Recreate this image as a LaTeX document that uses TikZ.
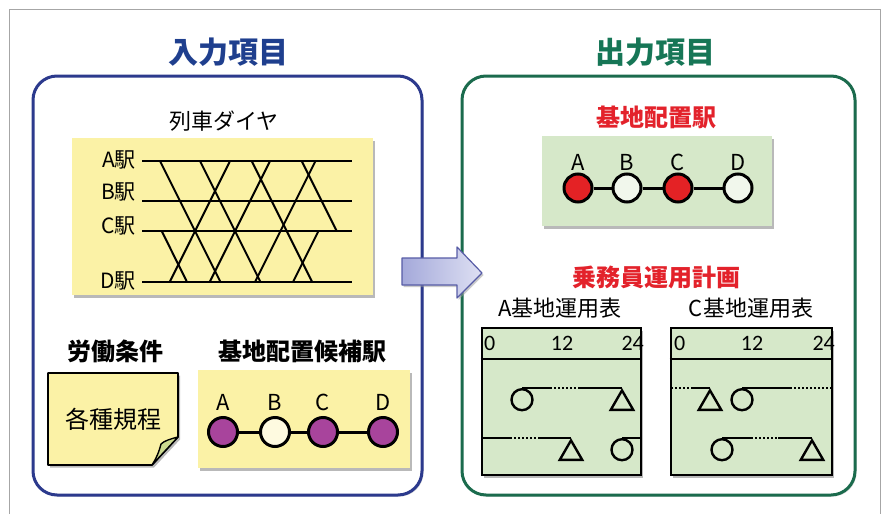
\documentclass[tikz,border=0pt]{standalone}
\usepackage{fontspec}
\setmainfont{Noto Sans CJK JP}
\newfontfamily\hourfont{Carlito}
\usetikzlibrary{shapes.geometric, shadows}

\definecolor{inblue}{HTML}{2C3A8D}
\definecolor{intitle}{HTML}{1F3F8E}
\definecolor{outgreen}{HTML}{1B6B4D}
\definecolor{outtitle}{HTML}{167656}
\definecolor{notered}{HTML}{E3222B}
\definecolor{padyellow}{HTML}{FBF2A6}
\definecolor{padgreen}{HTML}{D6E8C9}
\definecolor{flapgreen}{HTML}{CBD98F}
\definecolor{basepurple}{HTML}{A8449C}
\definecolor{basered}{HTML}{E42225}
\definecolor{arrowdark}{HTML}{A4A9DA}
\definecolor{arrowlight}{HTML}{DEE0F3}
\definecolor{arrowedge}{HTML}{575CA6}

\begin{document}
\begin{tikzpicture}[x=1pt, y=-1pt,
    panel/.style={draw, line width=3pt, rounded corners=24pt, inner sep=0pt, fill=white,
      drop shadow={shadow xshift=1.5pt, shadow yshift=-1.5pt, fill=black!30, opacity=.5}},
    pad/.style={inner sep=0pt, drop shadow={shadow xshift=2pt, shadow yshift=-2.5pt, fill=black!50, opacity=.55}},
    title/.style={font=\bfseries\fontsize{30}{30}\selectfont},
    head/.style={font=\bfseries\fontsize{24}{24}\selectfont},
    plain/.style={font=\fontsize{22}{22}\selectfont},
    stn/.style={font=\fontsize{22}{22}\selectfont, inner sep=0pt},
    dia/.style={font=\fontsize{21}{21}\selectfont, inner sep=0pt},
    base/.style={circle, draw, line width=3pt, minimum size=29pt, inner sep=0pt},
    link/.style={line width=3pt},
    table/.style={draw, fill=padgreen, line width=2.8pt, minimum height=147pt, inner sep=0pt,
      drop shadow={shadow xshift=2pt, shadow yshift=-2.5pt, fill=black!50, opacity=.55}},
    stop/.style={circle, draw, line width=2.4pt, minimum size=21pt, inner sep=0pt, anchor=north},
    turn/.style={regular polygon, regular polygon sides=3, draw, line width=2.4pt, minimum size=26pt,
      inner sep=0pt, anchor=corner 1},
    run/.style={line width=2.4pt},
    gap/.style={line width=2.4pt, dash pattern=on 2pt off 2pt},
    hour/.style={font=\hourfont\fontsize{22}{22}\selectfont, inner sep=0pt},
    track/.style={line width=1.6pt},
    train/.style={line width=2pt}]

\useasboundingbox (0,0) rectangle (883,514);
\draw[gray!70, line width=1pt] (9,514) -- (9,9) -- (880,9) -- (880,514);

% input side
\node[panel, draw=inblue, minimum width=389pt, minimum height=419pt] (inpanel) at (227.5,285.5) {};
\node[title, text=intitle] (inhead) at (228,52) {入力項目};

\node[plain] (diahead) at (224,121) {列車ダイヤ};
\node[pad, fill=padyellow, minimum width=301pt, minimum height=157pt] (diapad) at (222.5,216.5) {};
\foreach \n/\ly/\yy in {A/160/161, B/192/201, C/226/231, D/281/282} {
  \node[dia, anchor=east] (st\n) at (136,\ly) {\n 駅};
  \draw[track] (142,\yy) -- (352,\yy);
}
\foreach \xa/\ya/\xb/\yb in {160/161/220.5/282, 200/161/260.5/282, 251.7/161/312.2/282,
    301.7/161/336.7/231, 161.7/231/187/282, 169.7/282/230/161, 209.7/282/270/161,
    255/282/315.5/161, 293/282/318.5/231}
  \draw[train] (\xa,\ya) -- (\xb,\yb);

\node[head] (workhead) at (115,351) {労働条件};
\draw[fill=padyellow, line width=1.6pt, line join=round,
  drop shadow={shadow xshift=2pt, shadow yshift=-2.5pt, fill=black!50, opacity=.55}]
  (48,373) -- (178,373) -- (178,437) -- (152,465) -- (48,465) -- cycle;
\draw[fill=flapgreen, line width=1.4pt, line join=round]
  (178,437) .. controls (170,439) and (164,441) .. (161,444)
  .. controls (159,452) and (156,459) .. (152,465) -- cycle;
\node[font=\fontsize{24}{24}\selectfont] (rules) at (113,419) {各種規程};

\node[head] (candhead) at (302,351) {基地配置候補駅};
\node[pad, fill=padyellow, minimum width=212pt, minimum height=98pt] (candpad) at (304,419) {};
\foreach \n/\xx/\c in {A/223/basepurple, B/275/padyellow!35!white, C/323/basepurple, D/383/basepurple} {
  \node[stn] (cl\n) at (\xx,402) {\n};
  \node[base, fill=\c] (cs\n) at (\xx,432) {};
}
\path[link] (csA) edge (csB) (csB) edge (csC) (csC) edge (csD);

% output side
\node[panel, draw=outgreen, minimum width=393pt, minimum height=419pt] (outpanel) at (658.5,285.5) {};
\node[title, text=outtitle] (outhead) at (655,52) {出力項目};

\node[head, text=notered] (basehead) at (656,117) {基地配置駅};
\node[pad, fill=padgreen, minimum width=230pt, minimum height=90pt] (basepad) at (657,181) {};
\foreach \n/\xx/\c in {A/578/basered, B/627/padgreen!35!white, C/678/basered, D/738/padgreen!35!white} {
  \node[stn] (bl\n) at (\xx,162) {\n};
  \node[base, minimum size=28pt, fill=\c] (bs\n) at (\xx,188) {};
}
\path[link] (bsA) edge (bsB) (bsB) edge (bsC) (bsC) edge (bsD);

\node[head, text=notered] (crewhead) at (656,277) {乗務員運用計画};
\node[plain] (tabAhead) at (560,308) {A基地運用表};
\node[plain] (tabChead) at (751,308) {C基地運用表};

\node[table, minimum width=159pt] (tabA) at (561.5,401.5) {};
\node[table, minimum width=161pt] (tabC) at (751.5,401.5) {};
\draw[line width=2.8pt] (tabA.west |- 0,359) -- (tabA.east |- 0,359);
\draw[line width=2.8pt] (tabC.west |- 0,359) -- (tabC.east |- 0,359);
\node[hour, anchor=west] (a0) at (484,343) {0};
\node[hour] (a12) at (562,343) {12};
\node[hour, anchor=east] (a24) at (644,343) {24};
\node[hour, anchor=west] (c0) at (674,343) {0};
\node[hour] (c12) at (752,343) {12};
\node[hour, anchor=east] (c24) at (835,343) {24};

% A base runs
\node[stop] (a1o) at (522,388) {};
\node[turn] (a1t) at (622,388) {};
\coordinate (a1s) at (550,388);
\coordinate (a1e) at (579,388);
\draw[run] (a1o.north) -- (a1s);
\draw[gap] (a1s) -- (a1e);
\draw[run] (a1e) -- (a1t.corner 1);

\node[turn] (a2t) at (571,438) {};
\node[stop] (a2o) at (622,438) {};
\coordinate (a2b) at (482,438);
\coordinate (a2s) at (510,438);
\coordinate (a2e) at (539,438);
\coordinate (a2x) at (641,438);
\draw[run] (a2b) -- (a2s);
\draw[gap] (a2s) -- (a2e);
\draw[run] (a2e) -- (a2t.corner 1);
\draw[run] (a2o.north) -- (a2x);

% C base runs
\node[turn] (c1t) at (710,388) {};
\node[stop] (c1o) at (742,388) {};
\coordinate (c1b) at (671,388);
\coordinate (c1s) at (693,388);
\coordinate (c1e) at (790,388);
\coordinate (c1x) at (832,388);
\draw[gap] (c1b) -- (c1s);
\draw[run] (c1s) -- (c1t.corner 1);
\draw[run] (c1o.north) -- (c1e);
\draw[gap] (c1e) -- (c1x);

\node[stop] (c2o) at (722,438) {};
\node[turn] (c2t) at (812,438) {};
\coordinate (c2s) at (751,438);
\coordinate (c2e) at (778,438);
\draw[run] (c2o.north) -- (c2s);
\draw[gap] (c2s) -- (c2e);
\draw[run] (c2e) -- (c2t.corner 1);

% flow arrow
\draw[line width=1.2pt, draw=arrowedge, left color=arrowdark, right color=arrowlight, line join=round,
  drop shadow={shadow xshift=1.5pt, shadow yshift=-2pt, fill=black!40, opacity=.5}]
  (402,258) -- (457,258) -- (457,247) -- (482,273) -- (457,298) -- (457,285) -- (402,285) -- cycle;
\end{tikzpicture}
\end{document}
